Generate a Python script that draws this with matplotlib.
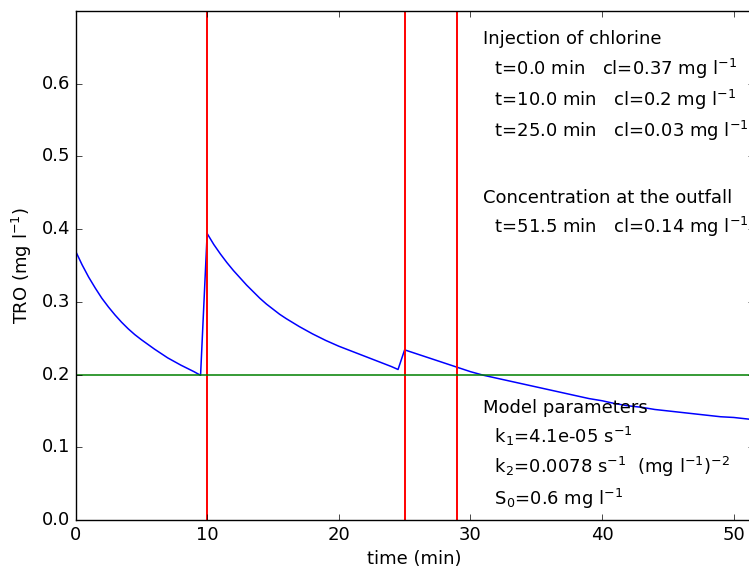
import matplotlib
matplotlib.use("Agg")
import matplotlib.pyplot as plt

# --- DATA ---
time_min = [0, 0.5, 1, 1.5, 2, 2.5, 3, 3.5, 4, 4.5, 5, 6, 7, 8, 9, 9.5,
            10, 10.5, 11, 11.5, 12, 12.5, 13, 13.5, 14, 14.5, 15, 15.5, 16, 17, 18,
            19, 20, 21, 22, 23, 24, 24.5,
            25, 26, 27, 28, 29, 30, 31, 32, 33, 34, 35, 36, 37, 38, 39, 40,
            41, 42, 43, 44, 45, 46, 47, 48, 49, 50, 51, 51.5]
tro = [0.370, 0.351, 0.334, 0.319, 0.305, 0.293, 0.282, 0.272, 0.263, 0.255,
       0.248, 0.235, 0.223, 0.213, 0.204, 0.199,
       0.394, 0.379, 0.366, 0.354, 0.343, 0.333, 0.323, 0.314, 0.305, 0.297,
       0.290, 0.283, 0.277, 0.266, 0.256, 0.247, 0.239, 0.232, 0.225, 0.218,
       0.211, 0.207,
       0.234, 0.228, 0.222, 0.216, 0.210, 0.204, 0.199, 0.195, 0.191, 0.187, 0.183,
       0.179, 0.175, 0.171, 0.167, 0.164, 0.160, 0.157, 0.155, 0.152, 0.150, 0.148,
       0.146, 0.144, 0.142, 0.141, 0.139, 0.138]
injection_times = [10, 25, 29]
threshold = 0.2

xticks = [0, 10, 20, 30, 40, 50]
yticks = [0.0, 0.1, 0.2, 0.3, 0.4, 0.5, 0.6]

info_lines = ["Injection of chlorine",
              "  t=0.0 min   cl=0.37 mg l$^{-1}$",
              "  t=10.0 min   cl=0.2 mg l$^{-1}$",
              "  t=25.0 min   cl=0.03 mg l$^{-1}$",
              "Concentration at the outfall",
              "  t=51.5 min   cl=0.14 mg l$^{-1}$",
              "Model parameters",
              "  k$_1$=4.1e-05 s$^{-1}$",
              "  k$_2$=0.0078 s$^{-1}$  (mg l$^{-1}$)$^{-2}$",
              "  S$_0$=0.6 mg l$^{-1}$"]
# text baselines in pixels from the top of the image
info_baselines = [44, 75, 106, 137.3, 202.7, 233.3, 412.7, 443.3, 473.3, 505]

plt.style.use("classic")
plt.rcParams["font.family"] = "DejaVu Sans"
plt.rcParams["mathtext.default"] = "regular"

W, H = 749, 567
fig = plt.figure(figsize=(W / 100, H / 100), dpi=100)
fig.patch.set_facecolor("white")
ax = fig.add_axes([75.5 / W, 1 - 520 / H, 678 / W, 509 / H])

ax.plot(time_min, tro, color="b", linewidth=1.1)
for t in injection_times:
    ax.axvline(t, color="r", linewidth=1.4)
ax.axhline(threshold, color="g", linewidth=1.1)

ax.set_xlim(0, 51.5)
ax.set_ylim(0, 0.7)
ax.set_xticks(xticks)
ax.set_yticks(yticks)
ax.tick_params(labelsize=13)
ax.set_xlabel("time (min)", fontsize=13)
ax.set_ylabel("TRO (mg l$^{-1}$)", fontsize=13)

for line, yb in zip(info_lines, info_baselines):
    ax.text(483 / W, 1 - yb / H, line, transform=fig.transFigure,
            fontsize=13, va="baseline", ha="left")

fig.savefig("out.png", dpi=100, facecolor="white")
